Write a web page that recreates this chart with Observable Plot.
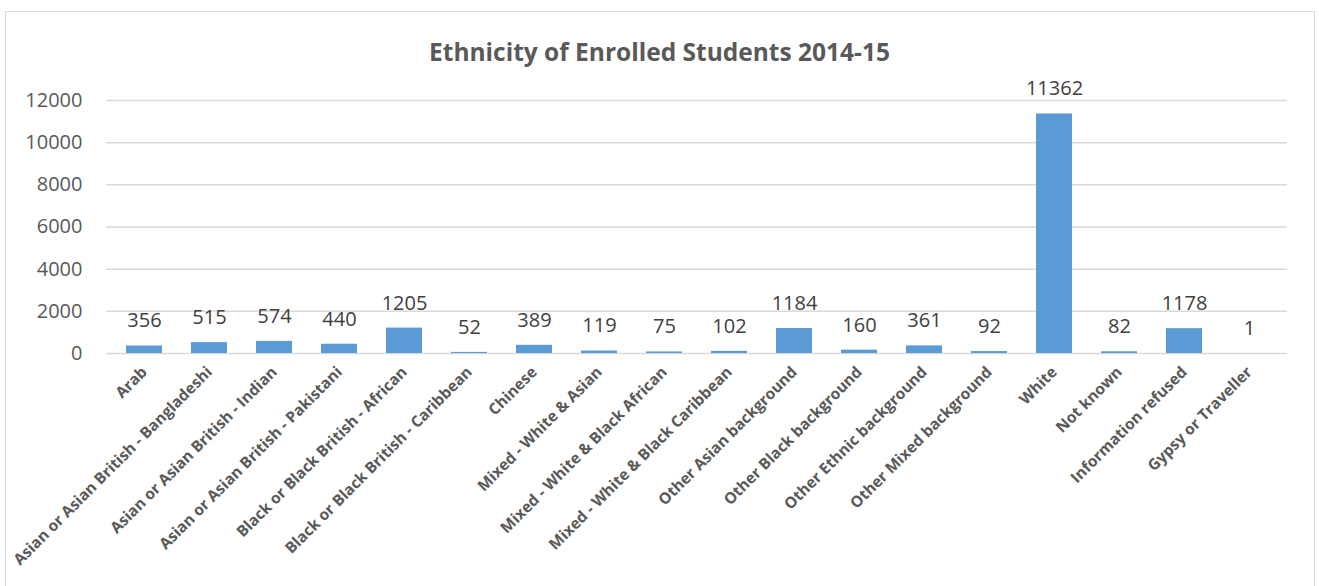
<!DOCTYPE html>
<html>
<head>
<meta charset="utf-8">
<script src="https://cdn.jsdelivr.net/npm/d3@7"></script>
<script src="https://cdn.jsdelivr.net/npm/@observablehq/plot@0.6"></script>
<style>
  html, body { margin: 0; padding: 0; background: #fff; }
  #wrap { position: relative; width: 1319px; height: 586px; overflow: hidden; font-family: "Open Sans", sans-serif; }
  #frame { position: absolute; left: 5px; top: 11px; width: 1310px; height: 600px; border: 1.5px solid #d9d9d9; box-sizing: border-box; }
  #title { position: absolute; left: 0; width: 1319px; top: 36px; text-align: center; font-size: 24.5px; font-weight: bold; color: #595959; line-height: 32px; }
  #chart { position: absolute; left: 0; top: 0; }
</style>
</head>
<body>
<div id="wrap">
  <div id="frame"></div>
  <div id="title">Ethnicity of Enrolled Students 2014-15</div>
  <div id="chart"></div>
</div>
<script>
const categories = [
  "Arab",
  "Asian or Asian British - Bangladeshi",
  "Asian or Asian British - Indian",
  "Asian or Asian British - Pakistani",
  "Black or Black British - African",
  "Black or Black British - Caribbean",
  "Chinese",
  "Mixed - White & Asian",
  "Mixed - White & Black African",
  "Mixed - White & Black Caribbean",
  "Other Asian background",
  "Other Black background",
  "Other Ethnic background",
  "Other Mixed background",
  "White",
  "Not known",
  "Information refused",
  "Gypsy or Traveller"
];
const students = [356, 515, 574, 440, 1205, 52, 389, 119, 75, 102, 1184, 160, 361, 92, 11362, 82, 1178, 1];
const yTicks = [0, 2000, 4000, 6000, 8000, 10000, 12000];

const data = categories.map((c, i) => ({category: c, value: students[i]}));

const chart = Plot.plot({
  width: 1319,
  height: 586,
  marginLeft: 106,
  marginRight: 32,
  marginTop: 100,
  marginBottom: 233,
  style: {fontFamily: "Open Sans, sans-serif", background: "transparent", overflow: "visible"},
  x: {domain: categories, paddingInner: 0.44, paddingOuter: 0.22, label: null},
  y: {domain: [0, 12000], label: null},
  marks: [
    Plot.ruleY(yTicks, {stroke: "#d9d9d9", strokeWidth: 1.5}),
    Plot.barY(data, {x: "category", y: "value", fill: "#5b9bd5"}),
    Plot.text(data, {x: "category", y: "value", text: d => String(d.value), dy: -25, fontSize: 20, fill: "#404040"}),
    Plot.axisY({ticks: yTicks, tickSize: 0, tickPadding: 24, fontSize: 20, fill: "#595959", tickFormat: d => String(d)}),
    Plot.axisX({tickSize: 0, tickRotate: -45, tickPadding: 16, fontSize: 15.5, fontWeight: "bold", fill: "#595959", label: null})
  ]
});
document.getElementById("chart").appendChild(chart);
</script>
</body>
</html>
